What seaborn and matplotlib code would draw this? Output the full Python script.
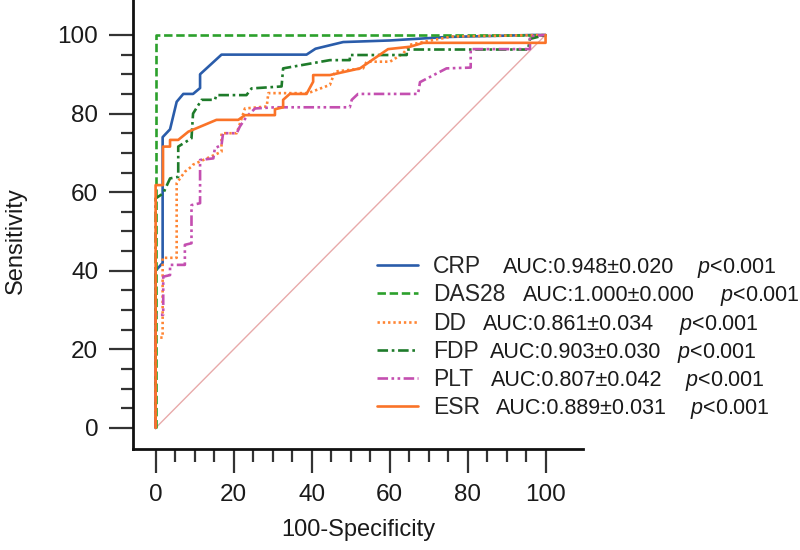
import matplotlib
matplotlib.use("Agg")
import matplotlib.pyplot as plt
import seaborn as sns
from matplotlib.ticker import FixedLocator

# ROC curves: x = 100-Specificity, y = Sensitivity
crp_x = [0, 0, 1.8, 1.8, 3.7, 5.4, 7.1, 9.6, 11.4, 11.4, 16.9, 38.7, 41, 48.1, 60, 75, 97, 100]
crp_y = [0, 40, 42, 74, 76, 83, 85, 85, 86.5, 90, 95, 95, 96.5, 98.2, 98.6, 99.5, 100, 100]

das_x = [0, 0, 100]
das_y = [0, 100, 100]

dd_x = [0, 0, 1.8, 1.8, 5.4, 5.4, 7.5, 9.2, 9.6, 16.9, 16.9, 20.8, 22.9, 28.5, 28.9, 39.1,
        44.7, 46, 53.2, 54.1, 60.1, 63.5, 65.2, 70, 76, 100]
dd_y = [0, 23, 23, 43.3, 43.3, 62.3, 65.2, 66.5, 67, 70.3, 75, 75, 81.3, 81.8, 85.2, 85.2,
        87.3, 90.7, 91.5, 93.2, 93.2, 95.3, 97.5, 98.5, 99.6, 100]

fdp_x = [0, 0, 1.95, 3.7, 5.8, 5.8, 9.2, 9.6, 11.8, 15.2, 15.6, 23.3, 24.6, 32.3, 32.7,
         44.7, 49.8, 49.8, 64.4, 64.4, 95.5, 96, 100]
fdp_y = [0, 58.4, 59.7, 63.5, 63.9, 71.6, 73.7, 80, 83.5, 83.5, 84.7, 84.7, 86.4, 86.9, 91.5,
         93.6, 93.6, 94.9, 94.9, 96.3, 96.3, 99, 100]

plt_x = [0, 0, 1.95, 1.95, 3.7, 3.7, 7.5, 7.5, 9.2, 9.2, 11.4, 11.4, 14.8, 15.2, 16.9, 17.3,
         20.8, 21.6, 23.3, 25.5, 30.6, 49.8, 50.3, 51.9, 67.3, 67.8, 74.6, 80.8, 80.8, 96, 96, 100]
plt_y = [0, 28.8, 28.8, 38.5, 38.9, 41.5, 41.5, 46.6, 47, 56.7, 57.2, 68.2, 68.6, 71.2, 72, 75,
         75, 76.7, 79.2, 81.3, 81.6, 81.6, 83.5, 85, 85, 88, 91.5, 91.7, 96.4, 96.4, 99.7, 100]

esr_x = [0, 0, 1.9, 1.9, 3.7, 3.7, 5.8, 8.4, 15.6, 21.2, 22.9, 30.6, 30.6, 32.7, 32.7, 34.4,
         38.7, 40.4, 40.4, 44.7, 52.4, 59.6, 65.2, 68.6, 100, 100]
esr_y = [0, 61.8, 61.8, 71.6, 71.6, 73.3, 73.3, 75.4, 78.4, 78.4, 79.6, 79.6, 81.1, 81.6, 83.5,
         85, 85, 88.1, 89.8, 89.8, 91.5, 96.4, 97, 98, 98, 100]

diag = [0, 100]

names = ["CRP", "DAS28", "DD", "FDP", "PLT", "ESR"]
auc_labels = ["AUC:0.948±0.020", "AUC:1.000±0.000", "AUC:0.861±0.034",
              "AUC:0.903±0.030", "AUC:0.807±0.042", "AUC:0.889±0.031"]
p_labels = ["$p$<0.001"] * 6

curves = [(crp_x, crp_y), (das_x, das_y), (dd_x, dd_y),
          (fdp_x, fdp_y), (plt_x, plt_y), (esr_x, esr_y)]
colors = ["#2a5caa", "#2ca02c", "#ff8533", "#1e7b2a", "#c44fb0", "#fa7328"]
styles = ["-", (0, (3.2, 1.4)), (0, (0.9, 1.1)), (0, (4, 1.4, 1, 1.4)),
          (0, (4, 1.3, 1, 1.3, 1, 1.3)), "-"]

sns.set_theme(style="ticks")
plt.rcParams["font.family"] = ["Liberation Sans", "DejaVu Sans"]
plt.rcParams["mathtext.fontset"] = "custom"
plt.rcParams["mathtext.rm"] = "Liberation Sans"
plt.rcParams["mathtext.it"] = "Liberation Sans:italic"

fig = plt.figure(figsize=(8, 5.5), dpi=100)
ax = fig.add_axes([133 / 800, 101 / 550, 450 / 800, 449 / 550])

ax.plot(diag, diag, color="#e8aaaa", lw=1)

for (cx, cy), name, col, ls in zip(curves, names, colors, styles):
    sns.lineplot(x=cx, y=cy, sort=False, estimator=None, color=col, linestyle=ls,
                 lw=1.9, label=name, ax=ax, legend=False)

ax.set_xlim(-5.8, 109.6)
ax.set_ylim(-5.35, 108.9)
ax.set_xticks([0, 20, 40, 60, 80, 100])
ax.set_yticks([0, 20, 40, 60, 80, 100])
minor = [v for v in range(5, 100, 5) if v % 20]
ax.xaxis.set_minor_locator(FixedLocator(minor))
ax.yaxis.set_minor_locator(FixedLocator(minor))
ax.tick_params(which="major", length=17, width=1.6, pad=8, labelsize=17.5,
               color="#333333", labelcolor="#1a1a1a")
ax.tick_params(which="minor", length=9, width=1.6, color="#333333")

for s in ["top", "right"]:
    ax.spines[s].set_visible(False)
for s in ["left", "bottom"]:
    ax.spines[s].set_linewidth(2)
    ax.spines[s].set_color("#111111")

ax.set_xlabel("100-Specificity", fontsize=17, color="#1a1a1a")
ax.set_ylabel("Sensitivity", fontsize=17, color="#1a1a1a")
ax.xaxis.set_label_coords(0.5, -0.155)
ax.yaxis.set_label_coords(-0.235, 0.465)

leg = ax.legend(loc="upper left", bbox_to_anchor=(377 / 800, 1 - 255 / 550),
                bbox_transform=fig.transFigure, frameon=False, fontsize=16.5,
                handlelength=1.8, handletextpad=0.65, labelspacing=0.23,
                borderpad=0, borderaxespad=0)

# AUC and p texts next to each legend row, on the same baseline
fig.canvas.draw()
renderer = fig.canvas.get_renderer()
auc_x = [503, 523, 483, 490, 491, 496]
p_x = [697, 720, 679, 677, 685, 690]
for t, ax_, px_, auc, pv in zip(leg.get_texts(), auc_x, p_x, auc_labels, p_labels):
    bb = t.get_window_extent(renderer)
    _, _, d = renderer.get_text_width_height_descent("lp", t.get_fontproperties(), ismath=False)
    yb = (bb.y0 + d) / fig.bbox.height
    fig.text(ax_ / 800, yb, auc, fontsize=15.5, va="baseline", color="#1a1a1a")
    fig.text(px_ / 800, yb, pv, fontsize=15.5, va="baseline", color="#1a1a1a")

fig.savefig("out.png", dpi=100)
